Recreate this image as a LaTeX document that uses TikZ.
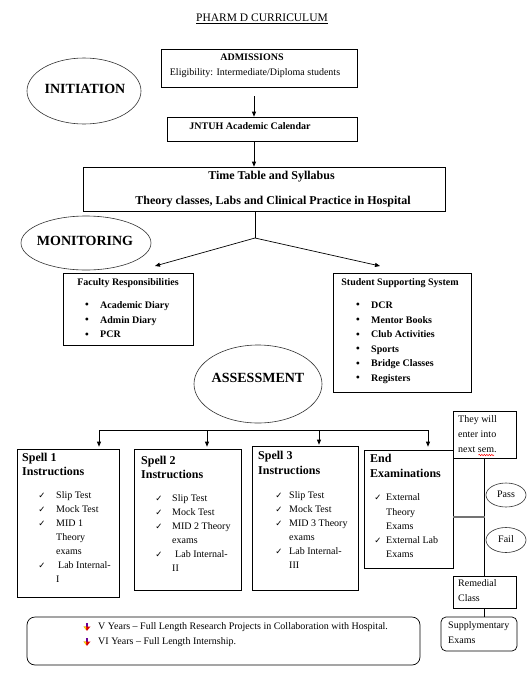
\documentclass[tikz,border=0pt]{standalone}
\usepackage{fontspec}
\setmainfont{Liberation Serif}
\newfontfamily\djv{DejaVu Sans}
\usetikzlibrary{arrows.meta,shapes.geometric,decorations.pathmorphing}
\begin{document}
\begin{tikzpicture}[x=1pt,y=-1pt,
  box/.style={draw, line width=0.7pt, inner sep=0pt},
  oval/.style={draw=black!80, line width=0.6pt, ellipse, inner sep=0pt},
  txt/.style={inner sep=0pt, text height=0.68em, text depth=0.18em, font=\fontsize{10}{12}\selectfont},
  btxt/.style={txt, font=\fontsize{10}{12}\selectfont\bfseries},
  htxt/.style={txt, font=\fontsize{12}{14}\selectfont\bfseries},
  etxt/.style={txt, font=\fontsize{14}{16}\selectfont\bfseries},
  chk/.style={inner sep=0pt, font=\djv\fontsize{8.5}{9}\selectfont},
  bul/.style={inner sep=0pt, font=\fontsize{12}{12}\selectfont},
  arr/.style={-{Triangle[length=5pt,width=4pt]}, line width=0.7pt},
  ln/.style={line width=0.7pt}
]
\fill[white] (0,0) rectangle (531,681);
\useasboundingbox (0,0) rectangle (531,681);

% title
\node[txt, font=\fontsize{11.5}{13}\selectfont] (title) at (262,19) {\underline{PHARM D CURRICULUM}};

% admissions
\node[box, minimum width=196pt, minimum height=38pt] (adm) at (259,68) {};
\node[btxt] (admT) at (252,58) {ADMISSIONS};
\node[txt] (admE) at (255,73) {Eligibility: Intermediate/Diploma students};

% initiation
\node[oval, minimum width=114pt, minimum height=66pt] (init) at (84,91) {};
\node[etxt] (initT) at (85,91) {INITIATION};

% JNTUH
\node[box, minimum width=190pt, minimum height=24pt] (jntuh) at (262,129) {};
\node[btxt] (jntuhT) at (250,127) {JNTUH Academic Calendar};

% time table
\node[box, minimum width=362pt, minimum height=44pt] (tt) at (264,189) {};
\node[htxt] (tt1) at (271.5,177) {Time Table and Syllabus};
\node[htxt] (tt2) at (273,202) {Theory classes, Labs and Clinical Practice in Hospital};

% arrows top
\coordinate (a1) at (254,96);
\draw[arr] (a1) -- (a1 |- jntuh.north);
\draw[arr] (a1 |- jntuh.south) -- (a1 |- tt.north);

% monitoring
\node[oval, minimum width=130pt, minimum height=54pt] (mon) at (86,243) {};
\node[etxt] (monT) at (85,243) {MONITORING};

\coordinate (split) at (255,238);
\coordinate (mL) at (155,266);
\coordinate (mR) at (380,266);
\draw[ln] (split |- tt.south) -- (split);
\draw[arr] (split) -- (mL);
\draw[arr] (split) -- (mR);

% faculty
\node[box, minimum width=130pt, minimum height=72pt] (fac) at (128,309) {};
\node[btxt] (facT) at (128,283) {Faculty Responsibilities};
\node[bul] (fb1) at (87,306) {\textbullet};
\node[bul] (fb2) at (87,320.7) {\textbullet};
\node[bul] (fb3) at (87,335.3) {\textbullet};
\node[btxt, anchor=west] (f1) at (100,306) {Academic Diary};
\node[btxt, anchor=west] (f2) at (100,320.7) {Admin Diary};
\node[btxt, anchor=west] (f3) at (100,335.3) {PCR};

% student
\node[box, minimum width=138pt, minimum height=119pt] (stu) at (402,332.5) {};
\node[btxt] (stuT) at (400,283) {Student Supporting System};
\node[bul] (sb1) at (358,306) {\textbullet};
\node[bul] (sb2) at (358,320.7) {\textbullet};
\node[bul] (sb3) at (358,335.3) {\textbullet};
\node[bul] (sb4) at (358,350) {\textbullet};
\node[bul] (sb5) at (358,364.3) {\textbullet};
\node[bul] (sb6) at (358,379) {\textbullet};
\node[btxt, anchor=west] (s1) at (371,306) {DCR};
\node[btxt, anchor=west] (s2) at (371,320.7) {Mentor Books};
\node[btxt, anchor=west] (s3) at (371,335.3) {Club Activities};
\node[btxt, anchor=west] (s4) at (371,350) {Sports};
\node[btxt, anchor=west] (s5) at (371,364.3) {Bridge Classes};
\node[btxt, anchor=west] (s6) at (371,379) {Registers};

% assessment
\node[oval, minimum width=128pt, minimum height=78pt] (asm) at (258,384) {};
\node[etxt] (asmT) at (258,380) {ASSESSMENT};

% spell boxes
\node[box, minimum width=102pt, minimum height=148pt] (sp1) at (68,523) {};
\node[box, minimum width=107pt, minimum height=141pt] (sp2) at (187.5,519.5) {};
\node[box, minimum width=106pt, minimum height=144pt] (sp3) at (305,518) {};
\node[box, minimum width=89pt, minimum height=118pt] (endx) at (408.5,509) {};

% bus
\coordinate (b1) at (99,430);
\coordinate (b2) at (207,430);
\coordinate (b3) at (319,430);
\coordinate (b4) at (428,430);
\draw[ln] (b1) -- (b4);
\draw[arr, shorten >=2pt] (b1) -- (b1 |- sp1.north);
\draw[arr, shorten >=2pt] (b2) -- (b2 |- sp2.north);
\draw[arr, shorten >=1pt] (b3) -- (b3 |- sp3.north);
\draw[arr, shorten >=3pt] (b4) -- (b4 |- endx.north);

% spell 1
\node[htxt, anchor=west] (h1a) at (22,458.5) {Spell 1};
\node[htxt, anchor=west] (h1b) at (22,473) {Instructions};
\node[chk] (c11) at (42,496) {✓};
\node[chk] (c12) at (42,510) {✓};
\node[chk] (c13) at (42,524) {✓};
\node[chk] (c14) at (42,566) {✓};
\node[txt, anchor=west] (t11) at (56,496) {Slip Test};
\node[txt, anchor=west] (t12) at (56,510) {Mock Test};
\node[txt, anchor=west] (t13) at (56,524) {MID 1};
\node[txt, anchor=west] (t13b) at (56,538) {Theory};
\node[txt, anchor=west] (t13c) at (56,552) {exams};
\node[txt, anchor=west] (t14) at (58,566) {Lab Internal-};
\node[txt, anchor=west] (t14b) at (56,580) {I};

% spell 2
\node[htxt, anchor=west] (h2a) at (141,462) {Spell 2};
\node[htxt, anchor=west] (h2b) at (141,476) {Instructions};
\node[chk] (c21) at (159,499) {✓};
\node[chk] (c22) at (159,513) {✓};
\node[chk] (c23) at (159,527) {✓};
\node[chk] (c24) at (159,555) {✓};
\node[txt, anchor=west] (t21) at (172,499) {Slip Test};
\node[txt, anchor=west] (t22) at (172,513) {Mock Test};
\node[txt, anchor=west] (t23) at (172,527) {MID 2 Theory};
\node[txt, anchor=west] (t23b) at (172,541) {exams};
\node[txt, anchor=west] (t24) at (175,555) {Lab Internal-};
\node[txt, anchor=west] (t24b) at (172,569) {II};

% spell 3
\node[htxt, anchor=west] (h3a) at (258,457) {Spell 3};
\node[htxt, anchor=west] (h3b) at (258,472) {Instructions};
\node[chk] (c31) at (279,496) {✓};
\node[chk] (c32) at (279,510) {✓};
\node[chk] (c33) at (279,524) {✓};
\node[chk] (c34) at (279,552) {✓};
\node[txt, anchor=west] (t31) at (289,496) {Slip Test};
\node[txt, anchor=west] (t32) at (289,510) {Mock Test};
\node[txt, anchor=west] (t33) at (289,524) {MID 3 Theory};
\node[txt, anchor=west] (t33b) at (289,538) {exams};
\node[txt, anchor=west] (t34) at (289,552) {Lab Internal-};
\node[txt, anchor=west] (t34b) at (289,566) {III};

% end examinations
\node[htxt, anchor=west] (hea) at (370,460) {End};
\node[htxt, anchor=west] (heb) at (370,475) {Examinations};
\node[chk] (ce1) at (378,498) {✓};
\node[chk] (ce2) at (378,541) {✓};
\node[txt, anchor=west] (te1) at (386,498) {External};
\node[txt, anchor=west] (te1b) at (386,513) {Theory};
\node[txt, anchor=west] (te1c) at (386,527) {Exams};
\node[txt, anchor=west] (te2) at (386,541) {External Lab};
\node[txt, anchor=west] (te2b) at (386,555) {Exams};

% right column
\node[box, fill=white, minimum width=63pt, minimum height=47pt] (next) at (484.5,434.5) {};
\node[txt, anchor=west] (n1) at (458,420) {They will};
\node[txt, anchor=west] (n2) at (458,435) {enter into};
\node[txt, anchor=west] (n3) at (458,450) {next sem.};
\draw[red, line width=0.5pt, decorate, decoration={snake, amplitude=0.7pt, segment length=2.5pt}] (478.5,455) -- (494,455);

\node[box, minimum width=63pt, minimum height=32pt] (rem) at (484.5,592) {};
\node[txt, anchor=west] (r1) at (458,584) {Remedial};
\node[txt, anchor=west] (r2) at (458,599) {Class};

\draw[ln] (next.south) -- (rem.north);
\coordinate (g) at (484.5,517);
\draw[black!55, line width=2pt] (g -| endx.east) -- (g);

\node[oval, minimum width=40pt, minimum height=24pt] (pass) at (506,495) {};
\node[txt] (passT) at (506,495) {Pass};
\node[oval, minimum width=40pt, minimum height=25pt] (fail) at (506,540) {};
\node[txt] (failT) at (506,540) {Fail};

\node[box, rounded corners=5pt, minimum width=76pt, minimum height=34pt] (sup) at (479,634) {};
\node[txt, anchor=west] (u1) at (448,626) {Supplymentary};
\node[txt, anchor=west] (u2) at (448,641) {Exams};
\draw[ln] (rem.south) -- (rem.south |- sup.north);

% footer
\node[box, rounded corners=8pt, minimum width=393pt, minimum height=48pt] (foot) at (223.5,641) {};
\foreach \yy in {627,642}{
  \fill[violet!80!blue] (85.8,\yy-4.5) rectangle (88.2,\yy-0.5);
  \fill[red!85!black] (83.5,\yy-0.5) -- (90.5,\yy-0.5) -- (87,\yy+3.8) -- cycle;
  \fill[yellow!90!orange] (83.5,\yy-0.5) -- (86.2,\yy-0.5) -- (86.2,\yy+2.8) -- cycle;
}
\node[txt, anchor=west] (fo1) at (98,627) {V Years – Full Length Research Projects in Collaboration with Hospital.};
\node[txt, anchor=west] (fo2) at (98,642) {VI Years – Full Length Internship.};
\end{tikzpicture}
\end{document}
